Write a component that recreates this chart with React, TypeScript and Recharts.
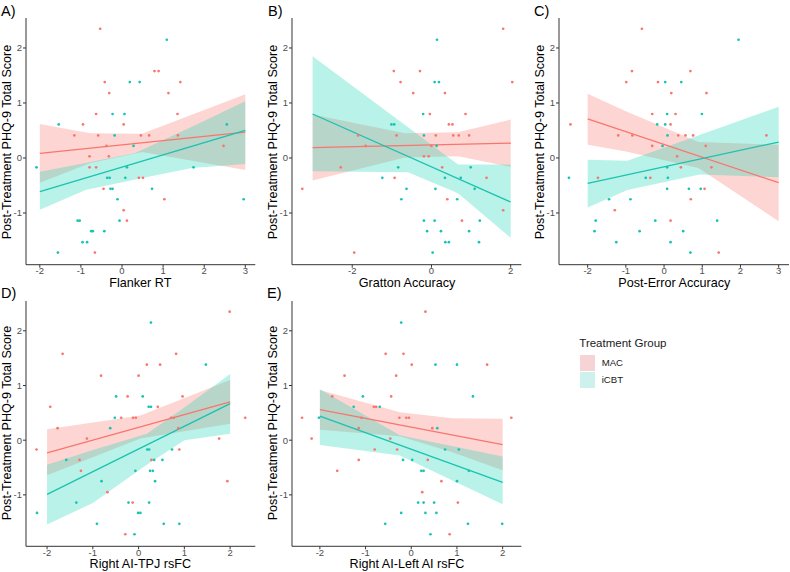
import React from 'react';
import { ComposedChart, Scatter, Area, Line, XAxis, YAxis } from 'recharts';

const MAC_COLOR = '#F8766D';
const ICBT_COLOR = '#19C3B1';
const ICBT_FILL = '#16D4B2';
const FONT = '"Liberation Sans", Arial, Helvetica, sans-serif';

const Y_TICKS = [-1, 0, 1, 2];
const Y_DOMAIN: [number, number] = [-1.94, 2.545];

// ---- A) Flanker RT
const aXTicks = [-2, -1, 0, 1, 2, 3];
const aMac = [
  [-0.53, 2.35], [0.79, 1.58], [0.89, 1.58], [-0.42, 1.38], [1.42, 1.38], [-0.31, 1.18], [1.13, 1.18],
  [-0.63, 0.8], [1.35, 0.8], [-0.95, 0.61], [0.04, 0.61], [-1.16, 0.41], [-0.58, 0.41], [0.46, 0.41],
  [0.66, 0.41], [1.36, 0.41], [-0.38, 0.22], [2.47, 0.22], [-0.79, 0.03], [-0.32, 0.03], [-0.79, -0.17],
  [-0.63, -0.17], [0.41, -0.36], [0.51, -0.36], [-0.45, -0.56], [1.03, -0.75], [0.04, -0.95], [0.12, -1.14],
  [-0.66, -1.72],
];
const aIcbt = [
  [1.09, 2.15], [0.19, 1.38], [0.43, 1.38], [-0.23, 0.8], [0.06, 0.8], [-1.54, 0.61], [2.55, 0.61],
  [-0.18, 0.41], [0.28, 0.22], [-2.08, -0.17], [0.12, -0.17], [1.74, -0.17], [-0.36, -0.36], [-0.3, -0.36],
  [0.08, -0.36], [-0.28, -0.56], [-0.23, -0.56], [0.73, -0.56], [-0.11, -0.75], [2.96, -0.75], [-1.08, -1.14],
  [-1.03, -1.14], [-0.06, -1.14], [-0.75, -1.33], [-0.71, -1.33], [-0.43, -1.33], [-0.96, -1.53], [-0.85, -1.53],
  [-1.56, -1.72],
];
const aMacFit = [[-2, 0.085], [3, 0.47]];
const aIcbtFit = [[-2, -0.61], [3, 0.5]];
const aMacBand = [[-2, -0.45, 0.62], [-0.77, -0.09, 0.45], [0.49, 0.11, 0.44], [3, -0.22, 1.16]];
const aIcbtBand = [[-2, -0.94, -0.25], [-0.89, -0.58, -0.09], [0.32, -0.39, 0.09], [1.7, -0.18, 0.57], [3, -0.11, 1.03]];

// ---- B) Gratton Accuracy
const bXTicks = [-2, 0, 2];
const bMac = [
  [1.81, 2.35], [2.04, 1.38], [-0.95, 1.58], [-0.29, 1.58], [-0.78, 1.38], [-0.46, 1.18], [0.34, 1.18],
  [-0.04, 0.8], [0.86, 0.8], [0.44, 0.61], [0.53, 0.61], [-1.85, 0.41], [-0.88, 0.41], [0.11, 0.41],
  [0.55, 0.41], [0.69, 0.41], [0.95, 0.41], [-1.66, 0.22], [0.0, 0.22], [-0.19, 0.03], [-0.07, 0.03],
  [-2.29, -0.17], [0.27, -0.17], [-0.93, -0.36], [1.39, -0.36], [-3.26, -0.56], [0.4, -0.75], [1.81, -0.95],
  [0.77, -1.14], [-1.95, -1.72],
];
const bIcbt = [
  [0.14, 2.15], [0.08, 1.38], [0.19, 1.38], [-0.21, 0.8], [-1.01, 0.61], [-0.94, 0.61], [-0.19, 0.41],
  [0.13, 0.22], [-0.84, -0.17], [0.99, -0.17], [-1.24, -0.36], [0.34, -0.36], [0.74, -0.36], [-0.63, -0.56],
  [0.1, -0.56], [1.09, -0.56], [-0.76, -0.75], [0.65, -0.75], [-0.19, -1.14], [0.08, -1.14], [1.22, -1.14],
  [-0.11, -1.33], [0.24, -1.33], [0.95, -1.33], [0.35, -1.53], [0.44, -1.53], [1.2, -1.53], [0.03, -1.72],
];
const bMacFit = [[-3, 0.19], [2, 0.27]];
const bIcbtFit = [[-3, 0.8], [2, -0.8]];
const bMacBand = [[-3, -0.41, 0.79], [-0.67, 0.01, 0.45], [0.67, 0.03, 0.47], [2, -0.16, 0.7]];
const bIcbtBand = [[-3, -0.24, 1.85], [-0.59, -0.26, 0.56], [0.67, -0.64, -0.12], [2, -1.45, -0.12]];

// ---- C) Post-Error Accuracy
const cXTicks = [-2, -1, 0, 1, 2, 3];
const cMac = [
  [-0.58, 2.35], [-0.84, 1.58], [0.69, 1.58], [-0.99, 1.38], [-0.16, 1.38], [0.19, 1.18], [1.11, 1.18],
  [-0.31, 0.8], [0.3, 0.8], [-2.45, 0.61], [0.17, 0.61], [-1.2, 0.41], [-0.83, 0.41], [0.37, 0.41],
  [0.56, 0.41], [0.76, 0.41], [2.68, 0.41], [-0.31, 0.22], [1.09, 0.22], [0.34, 0.03], [0.44, -0.17],
  [1.24, -0.17], [-1.73, -0.36], [-0.36, -0.36], [1.06, -0.56], [0.7, -0.75], [-1.29, -0.95], [0.17, -1.14],
  [1.43, -1.72],
];
const cIcbt = [
  [1.95, 2.15], [0.03, 1.38], [0.45, 1.38], [0.08, 0.8], [0.99, 0.8], [-0.18, 0.61], [0.03, 0.61],
  [0.09, 0.41], [-0.04, 0.22], [0.08, -0.17], [-2.49, -0.36], [-0.48, -0.36], [0.1, -0.36], [0.08, -0.56],
  [0.65, -0.56], [0.96, -0.56], [-1.44, -0.75], [-0.88, -0.75], [-1.79, -1.14], [-0.23, -1.14], [1.39, -1.14],
  [-1.82, -1.33], [-0.64, -1.33], [0.5, -1.33], [-1.25, -1.53], [0.17, -1.53], [0.69, -1.72],
];
const cMacFit = [[-2, 0.71], [3, -0.45]];
const cIcbtFit = [[-2, -0.46], [3, 0.29]];
const cMacBand = [[-2, 0.24, 1.17], [-1, 0.12, 0.85], [0.9, -0.18, 0.29], [3, -1.15, 0.24]];
const cIcbtBand = [[-2, -0.9, -0.03], [-0.96, -0.58, -0.05], [0.93, -0.3, 0.42], [3, -0.35, 0.93]];

// ---- D) Right AI-TPJ rsFC
const dXTicks = [-2, -1, 0, 1, 2];
const dMac = [
  [1.99, 2.35], [-1.66, 1.58], [0.82, 1.58], [0.18, 1.38], [0.47, 1.38], [-0.82, 1.18], [0.0, 1.18],
  [-0.24, 0.8], [0.96, 0.8], [-1.93, 0.61], [0.42, 0.61], [-0.38, 0.41], [-0.12, 0.41], [-0.06, 0.41],
  [0.71, 0.41], [0.77, 0.41], [2.33, 0.41], [-1.77, 0.22], [0.87, 0.22], [-1.13, 0.03], [1.76, 0.03],
  [-2.23, -0.17], [0.89, -0.17], [-1.29, -0.36], [0.28, -0.36], [-1.26, -0.56], [1.94, -0.75], [-0.68, -0.95],
  [-0.13, -1.14], [-0.29, -1.72],
];
const dIcbt = [
  [0.27, 2.15], [1.47, 1.38], [-0.49, 0.8], [0.09, 0.8], [0.22, 0.61], [0.27, 0.61], [-0.52, 0.41],
  [-0.62, 0.22], [0.19, -0.17], [0.23, -0.17], [0.73, -0.17], [-1.58, -0.36], [0.34, -0.36], [0.52, -0.36],
  [-0.07, -0.56], [0.25, -0.56], [0.31, -0.56], [-0.81, -0.75], [0.36, -0.75], [-1.36, -1.14], [-0.22, -1.14],
  [0.23, -1.14], [-2.22, -1.33], [-0.01, -1.33], [0.04, -1.33], [-0.91, -1.53], [0.55, -1.53], [0.89, -1.53],
  [-0.09, -1.72],
];
const dMacFit = [[-2, -0.23], [2, 0.7]];
const dIcbtFit = [[-2, -0.99], [2, 0.67]];
const dMacBand = [[-2, -0.64, 0.2], [0.04, 0.03, 0.45], [2, 0.3, 1.1]];
const dIcbtBand = [[-2, -1.54, -0.45], [-1, -1.15, -0.18], [0.18, -0.45, 0.12], [1, 0.0, 0.6], [2, 0.12, 1.21]];

// ---- E) Right AI-Left AI rsFC
const eXTicks = [-2, -1, 0, 1, 2];
const eMac = [
  [0.31, 2.35], [-0.56, 1.58], [-0.17, 1.58], [0.01, 1.38], [1.66, 1.38], [-1.46, 1.18], [-0.33, 1.18],
  [-0.44, 0.8], [-1.73, 0.8], [-0.82, 0.61], [-0.77, 0.61], [-2.39, 0.41], [-1.09, 0.41], [-0.26, 0.41],
  [-0.11, 0.41], [-0.05, 0.41], [2.19, 0.41], [-1.15, 0.22], [0.46, 0.22], [-2.18, 0.03], [-0.46, 0.03],
  [-0.8, -0.17], [-0.31, -0.17], [-1.15, -0.36], [0.36, -0.36], [-1.62, -0.56], [0.66, -0.75], [0.24, -0.95],
  [1.02, -1.14], [0.84, -1.72],
];
const eIcbt = [
  [-0.22, 2.15], [0.53, 1.38], [1.0, 1.38], [-1.06, 0.8], [1.35, 0.8], [-1.26, 0.61], [-0.69, 0.61],
  [-2.02, 0.41], [0.57, 0.22], [0.74, -0.17], [1.04, -0.17], [-0.18, -0.36], [0.02, -0.36], [0.22, -0.56],
  [0.27, -0.56], [1.26, -0.56], [1.0, -0.75], [0.15, -1.14], [0.27, -1.14], [0.5, -1.14], [-0.22, -1.33],
  [0.31, -1.33], [0.55, -1.33], [-0.57, -1.53], [1.24, -1.53], [1.99, -1.53], [0.42, -1.72],
];
const eMacFit = [[-2, 0.56], [2, -0.08]];
const eIcbtFit = [[-2, 0.44], [2, -0.77]];
const eMacBand = [[-2, 0.19, 0.92], [-0.25, 0.07, 0.51], [0.9, -0.22, 0.4], [2, -0.55, 0.39]];
const eIcbtBand = [[-2, -0.09, 0.93], [-0.25, -0.28, 0.09], [2, -1.17, -0.3]];

const panels = [
  { letter: 'A)', xLabel: 'Flanker RT', box: { l: 25.7, t: 18.3, r: 255, b: 265 }, xDomain: [-2.336, 3.243], xTicks: aXTicks, mac: aMac, icbt: aIcbt, macFit: aMacFit, icbtFit: aIcbtFit, macBand: aMacBand, icbtBand: aIcbtBand, letterPos: [1, 4] },
  { letter: 'B)', xLabel: 'Gratton Accuracy', box: { l: 292.3, t: 18.3, r: 521.7, b: 265 }, xDomain: [-3.52, 2.27], xTicks: bXTicks, mac: bMac, icbt: bIcbt, macFit: bMacFit, icbtFit: bIcbtFit, macBand: bMacBand, icbtBand: bIcbtBand, letterPos: [268, 4] },
  { letter: 'C)', xLabel: 'Post-Error Accuracy', box: { l: 559.3, t: 18.3, r: 789.3, b: 265 }, xDomain: [-2.75, 3.27], xTicks: cXTicks, mac: cMac, icbt: cIcbt, macFit: cMacFit, icbtFit: cIcbtFit, macBand: cMacBand, icbtBand: cIcbtBand, letterPos: [534, 4] },
  { letter: 'D)', xLabel: 'Right AI-TPJ rsFC', box: { l: 25.7, t: 300.8, r: 255, b: 546.1 }, xDomain: [-2.46, 2.55], xTicks: dXTicks, mac: dMac, icbt: dIcbt, macFit: dMacFit, icbtFit: dIcbtFit, macBand: dMacBand, icbtBand: dIcbtBand, letterPos: [1, 286] },
  { letter: 'E)', xLabel: 'Right AI-Left AI rsFC', box: { l: 292.3, t: 300.8, r: 521.7, b: 546.1 }, xDomain: [-2.61, 2.41], xTicks: eXTicks, mac: eMac, icbt: eIcbt, macFit: eMacFit, icbtFit: eIcbtFit, macBand: eMacBand, icbtBand: eIcbtBand, letterPos: [267, 286] },
];

const toPts = (arr: number[][]) => arr.map(([x, y]) => ({ x, y }));
const toBand = (arr: number[][]) => arr.map(([x, lo, hi]) => ({ x, band: [lo, hi] }));

const dot = (color: string) => (props: any) => <circle cx={props.cx} cy={props.cy} r={1.35} fill={color} />;

function Panel({ p }: { p: any }) {
  const YW = 26, MT = 8, XH = 30, MR = 1;
  const pw = p.box.r - p.box.l;
  const ph = p.box.b - p.box.t;
  const axisTick = { fontSize: 9.5, fill: '#4D4D4D', fontFamily: FONT };
  return (
    <>
      <div style={{ position: 'absolute', left: p.box.l - YW, top: p.box.t - MT }}>
        <ComposedChart width={YW + pw + MR} height={MT + ph + XH} margin={{ top: MT, right: MR, bottom: 0, left: 0 }}>
          <XAxis type="number" dataKey="x" domain={p.xDomain} ticks={p.xTicks} interval={0} allowDataOverflow
            height={XH} tickSize={3} tickMargin={-0.5} stroke="#333" tick={axisTick} />
          <YAxis type="number" domain={Y_DOMAIN} ticks={Y_TICKS} interval={0} allowDataOverflow
            width={YW} tickSize={3} tickMargin={1} stroke="#333" tick={axisTick} />
          <Scatter data={toPts(p.mac)} dataKey="y" shape={dot(MAC_COLOR)} isAnimationActive={false} />
          <Scatter data={toPts(p.icbt)} dataKey="y" shape={dot(ICBT_COLOR)} isAnimationActive={false} />
          <Area data={toBand(p.macBand)} dataKey="band" type="linear" stroke="none" fill={MAC_COLOR} fillOpacity={0.3} isAnimationActive={false} />
          <Line data={toPts(p.macFit)} dataKey="y" type="linear" stroke={MAC_COLOR} strokeWidth={1.3} dot={false} activeDot={false} isAnimationActive={false} />
          <Area data={toBand(p.icbtBand)} dataKey="band" type="linear" stroke="none" fill={ICBT_FILL} fillOpacity={0.3} isAnimationActive={false} />
          <Line data={toPts(p.icbtFit)} dataKey="y" type="linear" stroke={ICBT_COLOR} strokeWidth={1.3} dot={false} activeDot={false} isAnimationActive={false} />
        </ComposedChart>
      </div>
      <div style={{ position: 'absolute', left: p.box.l - 18.2, top: p.box.t + ph / 2, transform: 'translate(-50%, -50%) rotate(-90deg)', whiteSpace: 'nowrap', fontSize: 12.6, lineHeight: 0.75, color: '#000' }}>
        Post-Treatment PHQ-9 Total Score
      </div>
      <div style={{ position: 'absolute', left: p.box.l + pw / 2, top: p.box.b + 17.8, transform: 'translate(-50%, -50%)', whiteSpace: 'nowrap', fontSize: 12.6, lineHeight: 0.7, color: '#000' }}>
        {p.xLabel}
      </div>
      <div style={{ position: 'absolute', left: p.letterPos[0], top: p.letterPos[1], fontSize: 14.5, lineHeight: 1, color: '#000' }}>
        {p.letter}
      </div>
    </>
  );
}

export default function App() {
  return (
    <div style={{ position: 'absolute', left: 0, top: 0, width: 790, height: 572, background: '#fff', overflow: 'hidden', fontFamily: FONT }}>
      {panels.map((p) => <Panel key={p.letter} p={p} />)}
      <div style={{ position: 'absolute', left: 579.3, top: 337.5, fontSize: 11.5, lineHeight: 1, color: '#1a1a1a', whiteSpace: 'nowrap' }}>Treatment Group</div>
      <div style={{ position: 'absolute', left: 580, top: 355, width: 15.3, height: 15.5, background: '#F6D3D4' }} />
      <div style={{ position: 'absolute', left: 580, top: 372, width: 15.3, height: 15.5, background: '#CDF2EE' }} />
      <div style={{ position: 'absolute', left: 601.7, top: 357.5, fontSize: 9.6, lineHeight: 1, color: '#1a1a1a' }}>MAC</div>
      <div style={{ position: 'absolute', left: 601.7, top: 374.5, fontSize: 9.6, lineHeight: 1, color: '#1a1a1a' }}>iCBT</div>
    </div>
  );
}
